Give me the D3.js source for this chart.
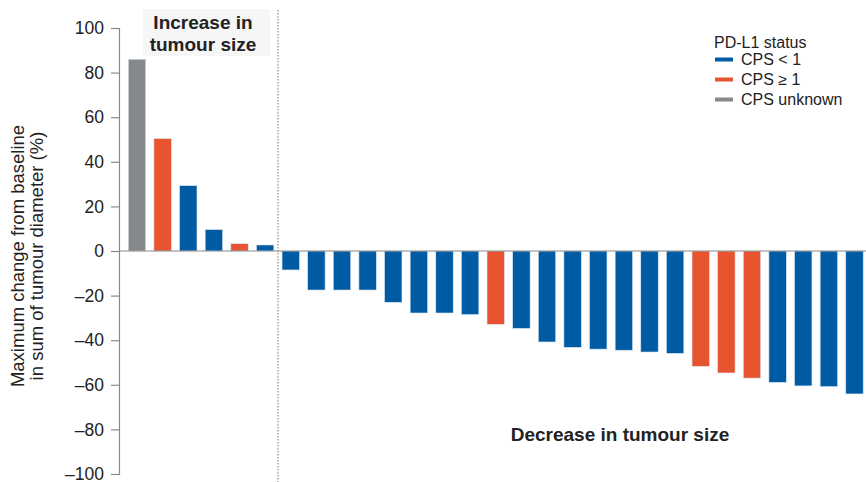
<!DOCTYPE html>
<html>
<head>
<meta charset="utf-8">
<script src="https://cdn.jsdelivr.net/npm/d3@7/dist/d3.min.js"></script>
<style>
  body { margin: 0; background: #fff; }
  svg { display: block; font-family: "Liberation Sans", Arial, sans-serif; }
</style>
</head>
<body>
<div id="chart"></div>
<script>
// data (one bar per patient)
const values = [86, 50.4, 29.3, 9.6, 3.3, 2.7,
    -8.5, -17.5, -17.5, -17.5, -23, -27.8, -27.8, -28.5, -32.9, -34.7, -40.8, -43.2,
    -44, -44.5, -45.3, -45.9, -51.7, -54.7, -57, -58.9, -60.5, -60.8, -64.1];
const status = ["unk", "pos", "neg", "neg", "pos", "neg",
    "neg", "neg", "neg", "neg", "neg", "neg", "neg", "neg", "pos", "neg", "neg", "neg",
    "neg", "neg", "neg", "neg", "pos", "pos", "pos", "neg", "neg", "neg", "neg"];
const yTicks = [100, 80, 60, 40, 20, 0, -20, -40, -60, -80, -100];
const legendKeys = ["neg", "pos", "unk"];
const legendLabels = ["CPS < 1", "CPS \u2265 1", "CPS unknown"];
const nIncrease = 6;

const colors = {neg: "#005ba5", pos: "#e8542f", unk: "#868889"};

const width = 866, height = 482;
const svg = d3.select("#chart").append("svg")
    .attr("width", width)
    .attr("height", height);

// scales
const x = d3.scaleBand()
    .domain(d3.range(values.length))
    .range([124.2, 867.3])
    .paddingInner(0.32)
    .paddingOuter(0.16);
const y = d3.scaleLinear().domain([-100, 100]).range([474, 28]);
const axisX = 119;

// faint box behind the "increase" label
svg.append("rect")
    .attr("x", 143).attr("y", 9)
    .attr("width", 127).attr("height", 47)
    .attr("fill", "#f6f6f6");

// divider between increase / decrease
const divX = x(nIncrease) - x.step() * x.paddingInner() / 2;
svg.append("line")
    .attr("x1", divX).attr("x2", divX)
    .attr("y1", 10).attr("y2", height)
    .attr("stroke", "#777")
    .attr("stroke-width", 1)
    .attr("stroke-dasharray", "1.5,1.5");

// bars
svg.append("g").selectAll("rect")
    .data(values)
    .join("rect")
    .attr("x", (d, i) => x(i))
    .attr("width", x.bandwidth())
    .attr("y", d => y(Math.max(0, d)))
    .attr("height", d => Math.abs(y(d) - y(0)))
    .attr("fill", (d, i) => colors[status[i]])
    .attr("stroke", "#d8e4ee")
    .attr("stroke-width", 0.6);

// zero line
svg.append("line")
    .attr("x1", axisX).attr("x2", width)
    .attr("y1", y(0)).attr("y2", y(0))
    .attr("stroke", "#8a8a8a")
    .attr("stroke-width", 1.2);

// y axis
const yAxis = svg.append("g")
    .attr("transform", `translate(${axisX},0)`)
    .call(d3.axisLeft(y).tickValues(yTicks).tickSize(8).tickPadding(7)
        .tickFormat(d => d < 0 ? "\u2013" + Math.abs(d) : d));
yAxis.select(".domain").attr("stroke", "#8a8a8a").attr("stroke-width", 1.2);
yAxis.selectAll(".tick line").attr("stroke", "#8a8a8a").attr("stroke-width", 1.2);
yAxis.selectAll(".tick text")
    .attr("fill", "#222")
    .style("font-size", "17.5px")
    .style("font-family", "\"Liberation Sans\", Arial, sans-serif");

// y axis title
const yTitle = svg.append("text")
    .attr("transform", "translate(0,256) rotate(-90)")
    .attr("text-anchor", "middle")
    .attr("fill", "#222")
    .style("font-size", "18.5px");
yTitle.append("tspan").attr("x", 0).attr("y", 24).text("Maximum change from baseline");
yTitle.append("tspan").attr("x", 0).attr("y", 43).text("in sum of tumour diameter (%)");

// annotations
const inc = svg.append("text")
    .attr("text-anchor", "middle")
    .attr("fill", "#222")
    .style("font-size", "19px")
    .style("font-weight", "bold");
inc.append("tspan").attr("x", 203).attr("y", 29).text("Increase in");
inc.append("tspan").attr("x", 203).attr("y", 51).text("tumour size");

svg.append("text")
    .attr("x", 620).attr("y", 441)
    .attr("text-anchor", "middle")
    .attr("fill", "#222")
    .style("font-size", "19px")
    .style("font-weight", "bold")
    .text("Decrease in tumour size");

// legend
const legend = svg.append("g").attr("transform", "translate(714,0)");
legend.append("text")
    .attr("x", 0).attr("y", 48)
    .attr("fill", "#222")
    .style("font-size", "16px")
    .text("PD-L1 status");
const item = legend.selectAll(".item")
    .data(legendKeys)
    .join("g")
    .attr("class", "item")
    .attr("transform", (d, i) => `translate(0,${65 + i * 20})`);
item.append("rect")
    .attr("x", 1).attr("y", -7.5)
    .attr("width", 18).attr("height", 4)
    .attr("fill", d => colors[d]);
item.append("text")
    .attr("x", 27).attr("y", 0)
    .attr("fill", "#222")
    .style("font-size", "16px")
    .text((d, i) => legendLabels[i]);
</script>
</body>
</html>
